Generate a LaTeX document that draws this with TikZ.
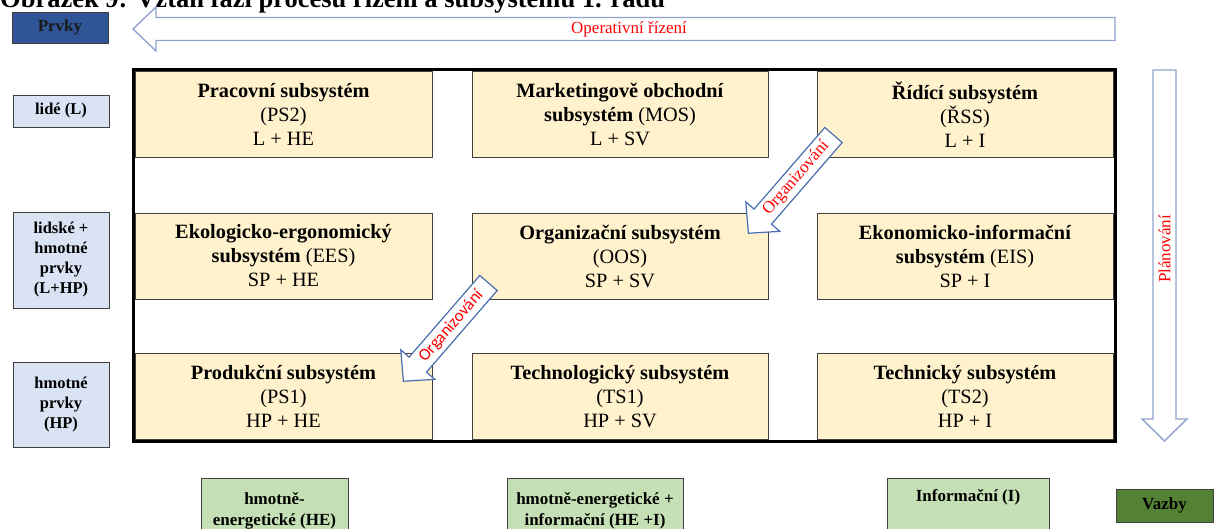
\documentclass[tikz,border=0pt]{standalone}
\usepackage{fontspec}
\setmainfont{Liberation Serif}
\newfontfamily\calib{Carlito}
\usetikzlibrary{calc}
\definecolor{subfill}{HTML}{FFF2CC}
\definecolor{elfill}{HTML}{DAE3F3}
\definecolor{vzfill}{HTML}{C5E0B4}
\definecolor{vazbyfill}{HTML}{548235}
\definecolor{prvkyfill}{HTML}{2F5597}
\definecolor{boxline}{HTML}{404040}
\definecolor{arrline}{HTML}{8FA3CC}
\definecolor{orgline}{HTML}{4A6DB0}
\begin{document}
\begin{tikzpicture}[x=1pt,y=-1pt,
  subbox/.style={draw=boxline, fill=subfill, line width=0.9pt, minimum height=86, align=center, inner sep=0, font=\fontsize{20.3}{24}\selectfont},
  elbox/.style={draw=boxline, fill=elfill, line width=0.9pt, minimum width=96, align=center, inner sep=0, font=\bfseries\fontsize{16.5}{20}\selectfont},
  vzbox/.style={draw=boxline, fill=vzfill, line width=0.9pt, inner sep=0, minimum height=70, anchor=north},
  vztext/.style={align=center, inner sep=0, anchor=north, font=\bfseries\fontsize{17}{21.5}\selectfont},
  bigarrow/.style={draw=arrline, fill=white, line width=1.4pt, line join=miter},
  orgarrow/.style={draw=orgline, fill=white, line width=1.2pt, line join=miter},
  redlabel/.style={text=red, inner sep=0, font=\fontsize{17}{17}\selectfont},
]
\useasboundingbox (0,0) rectangle (1219,529);

% title (cut at top)
\node[anchor=base west, inner sep=0, font=\bfseries\fontsize{26.5}{26.5}\selectfont] (title) at (0,8) {Obrázek 9: Vztah fází procesu řízení a subsystému 1. řádu};

% Prvky legend
\node[draw=boxline, fill=prvkyfill, line width=0.9pt, minimum width=96, minimum height=31, inner sep=0, font=\bfseries\fontsize{17}{17}\selectfont, text=black!90] (prvky) at (60,27.5) {Prvky};

% Operativni rizeni arrow
\draw[bigarrow] (1115,17.5) -- (156,17.5) -- (156,7) -- (133,29) -- (156,51) -- (156,40.5) -- (1115,40.5) -- cycle;
\node[redlabel] (op) at (629,29) {Operativní řízení};

% frame
\node[draw, line width=3pt, minimum width=982, minimum height=372, inner sep=0] (frame) at (624.5,255.5) {};

% subsystems
\node[subbox, minimum width=297] (ps2) at (283.5,114.5) {\textbf{Pracovní subsystém}\\(PS2)\\L + HE};
\node[subbox, minimum width=296] (mos) at (620,114.5) {\textbf{Marketingově obchodní}\\\textbf{subsystém} (MOS)\\L + SV};
\node[subbox, minimum width=296] (rss) at (965,114.5) {\textbf{Řídící subsystém}\\(ŘSS)\\L + I};
\node[subbox, minimum width=297] (ees) at (283.5,256) {\textbf{Ekologicko-ergonomický}\\\textbf{subsystém} (EES)\\SP + HE};
\node[subbox, minimum width=296] (oos) at (620,256) {\textbf{Organizační subsystém}\\(OOS)\\SP + SV};
\node[subbox, minimum width=296] (eis) at (965,256) {\textbf{Ekonomicko-informační}\\\textbf{subsystém} (EIS)\\SP + I};
\node[subbox, minimum width=297] (ps1) at (283.5,396.5) {\textbf{Produkční subsystém}\\(PS1)\\HP + HE};
\node[subbox, minimum width=296] (ts1) at (620,396.5) {\textbf{Technologický subsystém}\\(TS1)\\HP + SV};
\node[subbox, minimum width=296] (ts2) at (965,396.5) {\textbf{Technický subsystém}\\(TS2)\\HP + I};

% elements (left)
\node[elbox, minimum height=32] (L) at (61,111) {lidé (L)};
\node[elbox, minimum height=96] (LHP) at (61,260) {lidské +\\hmotné\\prvky\\(L+HP)};
\node[elbox, minimum height=85] (HP) at (61,404.5) {hmotné\\prvky\\(HP)};

% links (bottom)
\node[vzbox, minimum width=147] (HE) at (274.5,478) {};
\node[vztext] (HEt) at ($(HE.north)+(0,14)$) {hmotně-\\energetické (HE)};
\node[vzbox, minimum width=176] (HEI) at (595,478) {};
\node[vztext] (HEIt) at ($(HEI.north)+(0,14)$) {hmotně-energetické +\\informační (HE +I)};
\node[vzbox, minimum width=162] (I) at (968,478) {};
\node[vztext] (It) at ($(I.north)+(0,11)$) {Informační (I)};
\node[draw=boxline, fill=vazbyfill, line width=0.9pt, minimum width=97, minimum height=33, inner sep=0, font=\bfseries\fontsize{17}{17}\selectfont] (vazby) at (1164.5,505.5) {Vazby};

% Planovani arrow
\draw[bigarrow] (1153,70) -- (1153,419) -- (1142,419) -- (1164.5,441) -- (1187,419) -- (1176,419) -- (1176,70) -- cycle;
\node[redlabel, rotate=90] (plan) at (1164.5,249) {Plánování};

% Organizovani arrows
\begin{scope}[shift={(833.5,135)}, rotate=-130.9]
  \draw[orgarrow] (0,-11.5) -- (108,-11.5) -- (108,-22.5) -- (130,0) -- (108,22.5) -- (108,11.5) -- (0,11.5) -- cycle;
  \coordinate (o1c) at (57,0);
\end{scope}
\node[redlabel, rotate=49.1] (org1) at (o1c) {Organizování};
\begin{scope}[shift={(488.5,283)}, rotate=-130.9]
  \draw[orgarrow] (0,-11.5) -- (108,-11.5) -- (108,-22.5) -- (130,0) -- (108,22.5) -- (108,11.5) -- (0,11.5) -- cycle;
  \coordinate (o2c) at (57,0);
\end{scope}
\node[redlabel, rotate=49.1, font=\calib\fontsize{17}{17}\selectfont] (org2) at (o2c) {Organizování};
\end{tikzpicture}
\end{document}
